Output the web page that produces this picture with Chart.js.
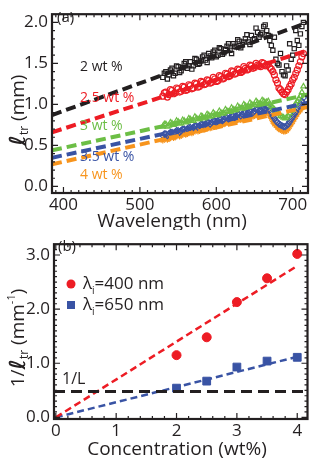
<!DOCTYPE html>
<html>
<head>
<meta charset="utf-8">
<script src="https://cdn.jsdelivr.net/npm/chart.js@4"></script>
<style>
  body { margin: 0; background: #fff; }
  .box { position: relative; width: 314px; }
</style>
</head>
<body>
<div class="box" style="height:230px"><canvas id="chartA"></canvas></div>
<div class="box" style="height:231px"><canvas id="chartB"></canvas></div>
<script>
// ---- panel (a): transport mean free path vs wavelength ----
const wavelengths = [530,534,538,542,546,550,554,558,562,566,570,574,578,582,586,590,594,598,602,606,610,614,618,622,626,630,634,638,642,646,650,654,658,662,666,670,674,678,682,686,690,694,698,702,706,710,714];
const lt2 = [1.33,1.40,1.36,1.44,1.38,1.46,1.41,1.50,1.44,1.52,1.47,1.55,1.50,1.58,1.54,1.62,1.57,1.66,1.60,1.68,1.63,1.71,1.66,1.74,1.70,1.77,1.73,1.80,1.76,1.84,1.80,1.88,1.85,1.95,1.90,1.78,1.66,1.55,1.48,1.40,1.35,1.42,1.55,1.68,1.78,1.86,2.00];
const lt25 = [1.10,1.15,1.12,1.17,1.14,1.19,1.16,1.21,1.18,1.23,1.20,1.25,1.22,1.27,1.25,1.29,1.27,1.31,1.29,1.34,1.32,1.37,1.35,1.40,1.38,1.42,1.40,1.44,1.43,1.47,1.45,1.48,1.46,1.50,1.48,1.45,1.40,1.30,1.20,1.15,1.12,1.18,1.25,1.33,1.42,1.52,1.62];
const lt3 = [0.73,0.76,0.74,0.77,0.76,0.79,0.77,0.80,0.79,0.82,0.80,0.83,0.82,0.85,0.84,0.87,0.86,0.88,0.87,0.90,0.89,0.92,0.91,0.94,0.93,0.96,0.95,0.98,0.97,1.00,0.99,1.02,1.01,1.04,1.03,1.00,0.96,0.92,0.88,0.85,0.83,0.86,0.92,0.98,1.04,1.10,1.22];
const lt35 = [0.62,0.64,0.64,0.66,0.66,0.68,0.68,0.70,0.70,0.72,0.72,0.74,0.74,0.76,0.76,0.78,0.78,0.80,0.80,0.82,0.82,0.84,0.84,0.86,0.86,0.88,0.88,0.90,0.90,0.92,0.92,0.94,0.94,0.96,0.98,0.93,0.86,0.80,0.76,0.74,0.73,0.76,0.82,0.88,0.95,1.01,1.08];
const lt4 = [0.56,0.59,0.58,0.61,0.60,0.63,0.62,0.65,0.64,0.67,0.66,0.69,0.68,0.71,0.70,0.72,0.72,0.74,0.74,0.76,0.76,0.78,0.78,0.80,0.80,0.82,0.82,0.84,0.84,0.86,0.86,0.88,0.88,0.90,0.91,0.86,0.79,0.74,0.70,0.68,0.67,0.70,0.76,0.82,0.88,0.93,1.00];
// second, interleaved scan
const wavelengths2 = [532,536,540,544,548,552,556,560,564,568,572,576,580,584,588,592,596,600,604,608,612,616,620,624,628,632,636,640,644,648,652,656,660,664,668,672,676,680,684,688,692,696,700,704,708,712];
const lt2b = [1.38,1.31,1.42,1.35,1.47,1.39,1.45,1.52,1.47,1.43,1.56,1.49,1.53,1.60,1.51,1.59,1.64,1.58,1.69,1.61,1.67,1.74,1.62,1.71,1.79,1.69,1.76,1.85,1.73,1.79,1.93,1.82,1.87,1.97,1.84,1.72,1.82,1.50,1.62,1.36,1.47,1.74,1.60,1.90,1.72,1.95];
const lt25b = [1.14,1.09,1.18,1.13,1.20,1.15,1.22,1.17,1.24,1.19,1.26,1.21,1.28,1.24,1.30,1.26,1.33,1.28,1.35,1.31,1.38,1.34,1.41,1.37,1.43,1.39,1.46,1.42,1.48,1.44,1.50,1.47,1.51,1.47,1.49,1.43,1.36,1.26,1.18,1.13,1.15,1.22,1.30,1.38,1.47,1.58];
const lt3b = [0.76,0.73,0.78,0.75,0.80,0.77,0.81,0.78,0.83,0.80,0.85,0.82,0.86,0.83,0.88,0.85,0.90,0.87,0.92,0.89,0.94,0.91,0.96,0.93,0.98,0.95,1.00,0.97,1.02,0.99,1.04,1.01,1.05,1.02,1.04,0.98,0.94,0.90,0.86,0.84,0.84,0.89,0.95,1.01,1.07,1.15];
const lt35b = [0.64,0.62,0.66,0.64,0.68,0.66,0.70,0.68,0.72,0.70,0.74,0.72,0.76,0.74,0.78,0.76,0.80,0.78,0.82,0.80,0.84,0.82,0.86,0.84,0.88,0.86,0.90,0.88,0.92,0.90,0.94,0.92,0.96,0.95,0.97,0.90,0.83,0.78,0.75,0.73,0.74,0.79,0.85,0.91,0.98,1.04];
const lt4b = [0.58,0.57,0.60,0.59,0.62,0.61,0.64,0.63,0.66,0.65,0.68,0.67,0.70,0.69,0.71,0.71,0.73,0.73,0.75,0.75,0.77,0.77,0.79,0.79,0.81,0.81,0.83,0.83,0.85,0.85,0.87,0.87,0.89,0.89,0.90,0.83,0.76,0.72,0.69,0.67,0.68,0.73,0.79,0.85,0.91,0.96];
const fitX = [385, 720];
const fit2 = [0.87, 2.00];
const fit25 = [0.66, 1.66];
const fit3 = [0.44, 1.12];
const fit35 = [0.35, 1.02];
const fit4 = [0.27, 0.97];
const ticksXa = [400, 500, 600, 700];
const ticksYa = [0.0, 0.5, 1.0, 1.5, 2.0];

// ---- panel (b): 1/l_tr vs concentration ----
const conc = [2, 2.5, 3, 3.5, 4];
const inv400 = [1.15, 1.48, 2.13, 2.57, 3.02];
const inv650 = [0.54, 0.67, 0.93, 1.04, 1.11];
const lineX = [0, 4];
const fit400 = [0, 2.80];
const fit650 = [0, 1.12];
const limitX = [-0.03, 4.17];
const invL = [0.48, 0.48];
const ticksXb = [0, 1, 2, 3, 4];
const ticksYb = [0.0, 1.0, 2.0, 3.0];

const BLACK = '#231f20', RED = '#ed1c24', GREEN = '#6cbe45', BLUE = '#3953a4', ORANGE = '#f7941d';
const FONT = "'Open Sans', 'Noto Sans', sans-serif";

function pts(xs, ys) {
  return xs.map((x, i) => ({ x: x, y: ys[i] }));
}

// draws a row of text pieces, some of them shifted down (subscripts) or up
function richText(ctx, parts, x, y, align) {
  let w = 0;
  for (const p of parts) { ctx.font = p.font; w += ctx.measureText(p.t).width; }
  let cx = align === 'center' ? x - w / 2 : x;
  for (const p of parts) {
    ctx.font = p.font;
    ctx.fillStyle = p.color || BLACK;
    ctx.fillText(p.t, cx, y + (p.dy || 0));
    cx += ctx.measureText(p.t).width;
  }
}

function frameTicks(minorX, minorY) {
  return {
    id: 'frameTicks',
    afterDatasetsDraw(chart) {
      const { ctx, chartArea: a, scales: { x, y } } = chart;
      ctx.save();
      ctx.strokeStyle = BLACK;
      ctx.lineWidth = 1.2;
      ctx.beginPath();
      const xs = x.ticks.map(t => t.value);
      const ys = y.ticks.map(t => t.value);
      for (let v = Math.ceil(x.min / minorX) * minorX; v <= x.max; v += minorX) {
        const px = x.getPixelForValue(v);
        const len = xs.some(t => Math.abs(t - v) < 1e-6) ? 6 : 3;
        ctx.moveTo(px, a.bottom); ctx.lineTo(px, a.bottom - len);
        ctx.moveTo(px, a.top); ctx.lineTo(px, a.top + len);
      }
      for (let v = Math.ceil(y.min / minorY) * minorY; v <= y.max; v += minorY) {
        const py = y.getPixelForValue(v);
        const len = ys.some(t => Math.abs(t - v) < 1e-6) ? 6 : 3;
        ctx.moveTo(a.left, py); ctx.lineTo(a.left + len, py);
        ctx.moveTo(a.right, py); ctx.lineTo(a.right - len, py);
      }
      ctx.stroke();
      ctx.lineWidth = 2.2;
      ctx.strokeRect(a.left, a.top, a.right - a.left, a.bottom - a.top);
      ctx.restore();
    }
  };
}

function axisOpts(min, max, tickList, dec, fit, pad) {
  return {
    type: 'linear',
    min: min,
    max: max,
    afterBuildTicks: s => { s.ticks = tickList.map(v => ({ value: v })); },
    afterFit: fit,
    grid: { display: false, drawTicks: false },
    border: { display: false },
    ticks: {
      color: BLACK,
      font: { family: FONT, size: 17 },
      padding: pad,
      callback: v => v.toFixed(dec)
    }
  };
}

function fitLine(xs, ys, color, width, dash) {
  return {
    type: 'line',
    data: pts(xs, ys),
    borderColor: color,
    borderWidth: width,
    borderDash: dash,
    pointRadius: 0,
    fill: false
  };
}

function marks(xs, ys, color, style) {
  return {
    type: 'scatter',
    data: pts(xs, ys),
    borderColor: color,
    backgroundColor: 'rgba(0,0,0,0)',
    pointStyle: style,
    pointRadius: 3,
    borderWidth: 1.2
  };
}

const labelsA = {
  id: 'labelsA',
  afterDraw(chart) {
    const ctx = chart.ctx;
    ctx.save();
    ctx.textBaseline = 'middle';
    ctx.textAlign = 'left';
    const f = '14px ' + FONT;
    richText(ctx, [{ t: '(a)', font: '15px ' + FONT }], 57, 18);
    richText(ctx, [{ t: '2 wt %', font: f }], 80, 67);
    richText(ctx, [{ t: '2.5 wt %', font: f, color: RED }], 80, 98);
    richText(ctx, [{ t: '3 wt %', font: f, color: GREEN }], 80, 126);
    richText(ctx, [{ t: '3.5 wt %', font: f, color: BLUE }], 80, 157);
    richText(ctx, [{ t: '4 wt %', font: f, color: ORANGE }], 80, 175);
    richText(ctx, [{ t: 'Wavelength (nm)', font: '19px ' + FONT }], 172, 222, 'center');
    ctx.translate(19, 110);
    ctx.rotate(-Math.PI / 2);
    richText(ctx, [
      { t: '\u2113', font: "bold italic 22px 'DejaVu Sans'" },
      { t: 'tr', font: '12px ' + FONT, dy: 6 },
      { t: ' (mm)', font: '19px ' + FONT }
    ], 0, 0, 'center');
    ctx.restore();
  }
};

const labelsB = {
  id: 'labelsB',
  afterDraw(chart) {
    const ctx = chart.ctx;
    ctx.save();
    ctx.textBaseline = 'middle';
    ctx.textAlign = 'left';
    const f = '17px ' + FONT;
    richText(ctx, [{ t: '(b)', font: '15px ' + FONT }], 58, 17);
    // legend
    ctx.fillStyle = RED;
    ctx.beginPath(); ctx.arc(71, 54, 4.5, 0, Math.PI * 2); ctx.fill();
    ctx.fillStyle = BLUE;
    ctx.fillRect(67, 71, 8, 8);
    richText(ctx, [{ t: '\u03bb', font: f }, { t: 'i', font: '10px ' + FONT, dy: 7 }, { t: '=400 nm', font: f }], 83, 54);
    richText(ctx, [{ t: '\u03bb', font: f }, { t: 'i', font: '10px ' + FONT, dy: 7 }, { t: '=650 nm', font: f }], 83, 75);
    richText(ctx, [{ t: '1/L', font: '16px ' + FONT }], 62, 149);
    richText(ctx, [{ t: 'Concentration (wt%)', font: '19px ' + FONT }], 177, 220, 'center');
    ctx.translate(19, 108);
    ctx.rotate(-Math.PI / 2);
    richText(ctx, [
      { t: '1/', font: '19px ' + FONT },
      { t: '\u2113', font: "bold italic 22px 'DejaVu Sans'" },
      { t: 'tr', font: '12px ' + FONT, dy: 6 },
      { t: ' (mm', font: '19px ' + FONT },
      { t: '-1', font: '11px ' + FONT, dy: -7 },
      { t: ')', font: '19px ' + FONT }
    ], 0, 0, 'center');
    ctx.restore();
  }
};

new Chart(document.getElementById('chartA'), {
  data: {
    datasets: [
      fitLine(fitX, fit2, BLACK, 4, [10, 5]),
      fitLine(fitX, fit25, RED, 4, [10, 5]),
      fitLine(fitX, fit3, GREEN, 4, [10, 5]),
      fitLine(fitX, fit35, BLUE, 4, [10, 5]),
      fitLine(fitX, fit4, ORANGE, 4, [10, 5]),
      marks(wavelengths, lt2, BLACK, 'rect'),
      marks(wavelengths2, lt2b, BLACK, 'rect'),
      marks(wavelengths, lt25, RED, 'circle'),
      marks(wavelengths2, lt25b, RED, 'circle'),
      marks(wavelengths, lt3, GREEN, 'triangle'),
      marks(wavelengths2, lt3b, GREEN, 'triangle'),
      marks(wavelengths, lt35, BLUE, 'rectRot'),
      marks(wavelengths2, lt35b, BLUE, 'rectRot'),
      marks(wavelengths, lt4, ORANGE, 'star'),
      marks(wavelengths2, lt4b, ORANGE, 'star')
    ]
  },
  options: {
    responsive: true,
    maintainAspectRatio: false,
    animation: false,
    layout: { padding: { left: 0, right: 6, top: 4, bottom: 0 } },
    plugins: { legend: { display: false }, tooltip: { enabled: false } },
    scales: {
      x: axisOpts(385, 720, ticksXa, 0, s => { s.height = 37; }, 2),
      y: axisOpts(-0.08, 2.1, ticksYa, 1, s => { s.width = 52; }, 4)
    }
  },
  plugins: [frameTicks(10, 0.1), labelsA]
});

new Chart(document.getElementById('chartB'), {
  data: {
    datasets: [
      fitLine(limitX, invL, BLACK, 3, [11, 6]),
      fitLine(lineX, fit400, RED, 2.5, [7, 4]),
      fitLine(lineX, fit650, BLUE, 2.5, [7, 4]),
      { type: 'scatter', data: pts(conc, inv400), backgroundColor: RED, borderColor: RED, pointStyle: 'circle', pointRadius: 4.5 },
      { type: 'scatter', data: pts(conc, inv650), backgroundColor: BLUE, borderColor: BLUE, pointStyle: 'rect', pointRadius: 5.5 }
    ]
  },
  options: {
    responsive: true,
    maintainAspectRatio: false,
    animation: false,
    layout: { padding: { left: 0, right: 6, top: 2, bottom: 0 } },
    plugins: { legend: { display: false }, tooltip: { enabled: false } },
    scales: {
      x: axisOpts(-0.03, 4.17, ticksXb, 0, s => { s.height = 42; }, 2),
      y: axisOpts(-0.03, 3.2, ticksYb, 1, s => { s.width = 54; }, 4)
    }
  },
  plugins: [frameTicks(0.2, 0.1), labelsB]
});
</script>
</body>
</html>
